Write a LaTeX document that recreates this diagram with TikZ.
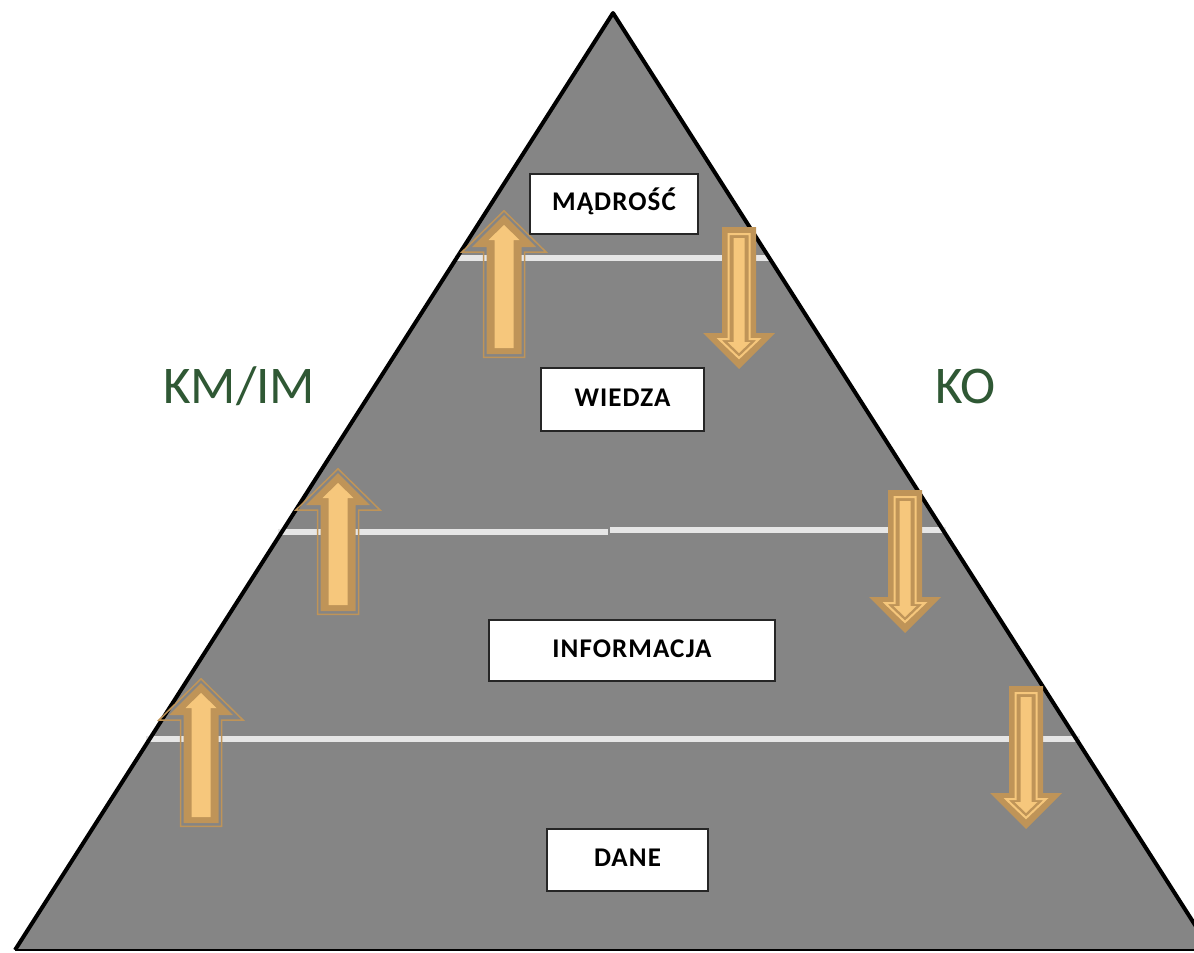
\documentclass[tikz,border=0pt]{standalone}
\usepackage{fontspec}
\newfontfamily\boxfont{Carlito}[LetterSpace=4]
\newfontfamily\sidefont{Carlito}
\definecolor{pyrgray}{RGB}{133,133,133}
\definecolor{sepline}{RGB}{230,230,230}
\definecolor{tanarr}{RGB}{191,148,88}
\definecolor{lightarr}{RGB}{246,199,124}
\definecolor{sidegreen}{RGB}{47,88,52}
\tikzset{
  levelbox/.style={draw=black!85, line width=2pt, fill=white, inner sep=0pt,
    text height=17pt, text depth=4pt,
    font=\boxfont\bfseries\fontsize{27}{32}\selectfont},
  sidelabel/.style={anchor=base west, inner sep=0pt, text=sidegreen,
    font=\sidefont\fontsize{53}{60}\selectfont},
  septrack/.style={draw=sepline, line width=6pt},
}
% up arrow: #1 = centre x, #2 = tip y, #3 = bottom y
\newcommand{\myuparrow}[3]{%
  \draw[tanarr, line width=1.5pt, line join=miter]
    ({#1-20.5},{#3-0.75}) -- ({#1-20.5},{#2+42}) -- ({#1-42},{#2+42}) -- (#1,{#2+0.8}) --
    ({#1+42},{#2+42}) -- ({#1+20.5},{#2+42}) -- ({#1+20.5},{#3-0.75}) -- cycle;
  \fill[tanarr]
    ({#1-17.5},{#3-4}) -- ({#1-17.5},{#2+37}) -- ({#1-32},{#2+37}) -- (#1,{#2+5}) --
    ({#1+32},{#2+37}) -- ({#1+17.5},{#2+37}) -- ({#1+17.5},{#3-4}) -- cycle;
  \fill[lightarr]
    ({#1-9.5},{#3-10}) -- ({#1-9.5},{#2+30}) -- ({#1-15.5},{#2+30}) -- (#1,{#2+15}) --
    ({#1+15.5},{#2+30}) -- ({#1+9.5},{#2+30}) -- ({#1+9.5},{#3-10}) -- cycle;
}
% down arrow: #1 = centre x, #2 = top y, #3 = tip y
\newcommand{\mydownarrow}[3]{%
  \fill[tanarr]
    ({#1-17},#2) -- ({#1+17},#2) -- ({#1+17},{#3-36}) -- ({#1+36},{#3-36}) -- (#1,#3) --
    ({#1-36},{#3-36}) -- ({#1-17},{#3-36}) -- cycle;
  \filldraw[draw=lightarr, fill=tanarr, line width=2pt, line join=miter]
    ({#1-10.5},{#2+7}) -- ({#1+10.5},{#2+7}) -- ({#1+10.5},{#3-30}) -- ({#1+20},{#3-30}) -- (#1,{#3-11}) --
    ({#1-20},{#3-30}) -- ({#1-10.5},{#3-30}) -- cycle;
  \fill[lightarr]
    ({#1-5.5},{#2+11}) -- ({#1+5.5},{#2+11}) -- ({#1+5.5},{#3-27}) -- ({#1+11.5},{#3-27}) -- (#1,{#3-16}) --
    ({#1-11.5},{#3-27}) -- ({#1-5.5},{#3-27}) -- cycle;
}
\begin{document}
\begin{tikzpicture}[x=1pt, y=-1pt]
  \useasboundingbox (0,0) rectangle (1194,953);
  \clip (0,0) rectangle (1194,953);
  \fill[white] (0,0) rectangle (1194,953);
  % pyramid
  \coordinate (apex) at (613,13);
  \coordinate (bl) at (15,950);
  \coordinate (br) at (1211,950);
  \fill[pyrgray] (apex) -- (bl) -- (br) -- cycle;
  % separating lines
  \coordinate (l1a) at (455,258);
  \coordinate (l1b) at (770,258);
  \coordinate (l2a) at (278,532);
  \coordinate (l2m) at (608,532);
  \coordinate (l2n) at (610,530);
  \coordinate (l2b) at (946,530);
  \coordinate (l3a) at (146,739);
  \coordinate (l3b) at (1080,739);
  \draw[septrack] (l1a) -- (l1b);
  \draw[septrack] (l2a) -- (l2m);
  \draw[septrack] (l2n) -- (l2b);
  \draw[septrack] (l3a) -- (l3b);
  % outline
  \draw[black, line width=4pt, line join=round] (bl) -- (apex) -- (br);
  \draw[black, line width=2.5pt] (bl) -- (br);
  % boxes
  \node[levelbox, minimum width=168pt, minimum height=60pt] (madrosc) at (614,204) {MĄDROŚĆ};
  \node[levelbox, minimum width=163pt, minimum height=63pt] (wiedza) at (622.5,399.5) {WIEDZA};
  \node[levelbox, minimum width=286pt, minimum height=61pt] (informacja) at (632,650.5) {INFORMACJA};
  \node[levelbox, minimum width=161pt, minimum height=62pt] (dane) at (627.5,860) {DANE};
  % side labels
  \node[sidelabel] (kmim) at (163,403) {KM/IM};
  \node[sidelabel] (ko) at (935,403) {KO};
  % arrows
  \myuparrow{504}{210}{358}
  \myuparrow{338}{468}{615}
  \myuparrow{201}{678}{827}
  \mydownarrow{739}{227}{369}
  \mydownarrow{905}{490}{633}
  \mydownarrow{1026}{686}{829}
\end{tikzpicture}
\end{document}
